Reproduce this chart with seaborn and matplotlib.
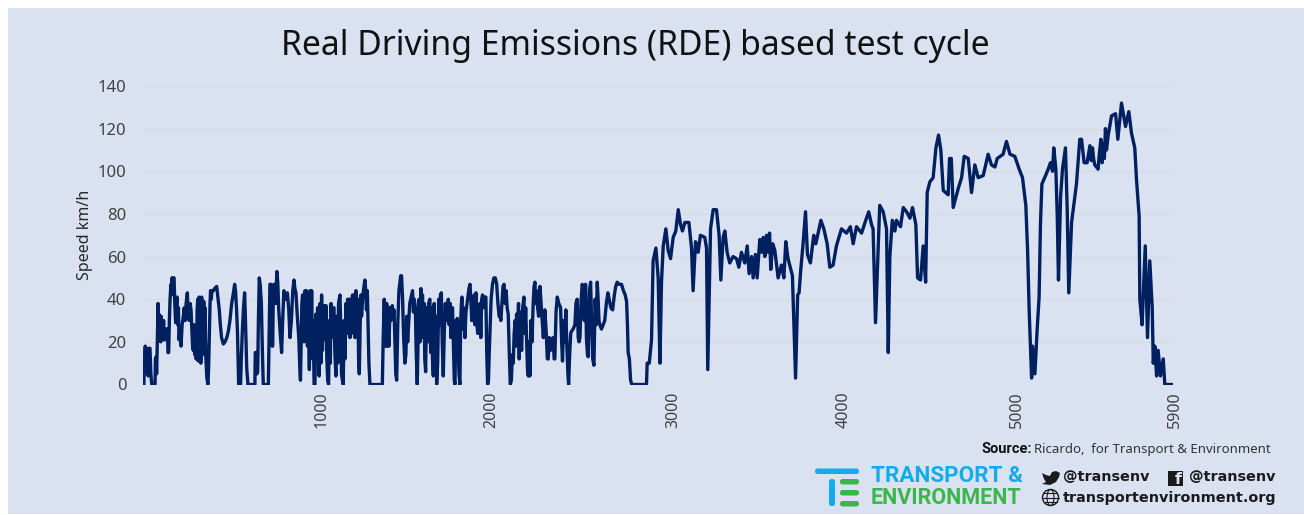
import matplotlib
matplotlib.use("Agg")
import matplotlib.pyplot as plt
from matplotlib.patches import Circle, Ellipse, FancyBboxPatch, Polygon, Rectangle
from matplotlib.transforms import ScaledTranslation
import pandas as pd
import seaborn as sns

BG = "#DAE2F2"
LINE = "#002060"
W, H = 1304, 515

# speed trace, one pair of lists per part of the cycle
urban_time = [0, 5, 8, 13, 17, 21, 26, 30, 35, 40,
              45, 50, 69, 71, 75, 78, 82, 86, 89, 92,
              95, 98, 101, 104, 107, 111, 114, 118, 121, 125,
              128, 132, 136, 140, 143, 147, 151, 155, 160, 163,
              166, 170, 174, 178, 182, 187, 191, 195, 199, 203,
              206, 212, 218, 224, 231, 236, 242, 247, 254, 259,
              265, 270, 275, 280, 284, 288, 292, 296, 300, 304,
              307, 310, 314, 317, 321, 324, 328, 331, 336, 340,
              345, 348, 352, 355, 358, 361, 366, 372, 376, 380,
              384, 387, 391, 395, 403, 410, 422, 430, 437, 443,
              450, 460, 470, 480, 489, 498, 508, 516, 525, 530,
              536, 541, 548, 559, 563, 569, 575, 582, 587, 594,
              601, 641, 643, 650, 653, 657, 661, 666, 671, 678,
              684, 689, 718, 722, 727, 732, 736, 740, 743, 746,
              750, 755, 760, 767, 772, 777, 785, 794, 800, 807,
              817, 827, 835, 842, 850, 858, 865, 870, 876, 884,
              893, 898, 902, 906, 910, 914, 918, 923, 928, 932,
              937, 942, 947, 953, 958, 962, 966, 971, 975, 980,
              985, 990, 995, 1000, 1004, 1009, 1014, 1019, 1023, 1028,
              1032, 1036, 1040, 1044, 1048, 1053, 1058, 1063, 1068, 1073,
              1077, 1080, 1086, 1094, 1099, 1105, 1110, 1115, 1120, 1128,
              1132, 1137, 1142, 1147, 1152, 1157, 1163, 1168, 1172, 1176,
              1181, 1186, 1191, 1196, 1200, 1205, 1210, 1215, 1220, 1225,
              1230, 1235, 1239, 1244, 1248, 1252, 1258, 1264, 1271, 1276,
              1280, 1285, 1290, 1294, 1300, 1371, 1376, 1382, 1386, 1391,
              1396, 1400, 1405, 1409, 1415, 1420, 1428, 1433, 1438, 1443,
              1448, 1453, 1460, 1466, 1472, 1476, 1481, 1487, 1493, 1500,
              1506, 1511, 1516, 1520, 1528, 1536, 1544, 1549, 1554, 1560,
              1565, 1571, 1576, 1582, 1587, 1592, 1597, 1601, 1605, 1610,
              1614, 1619, 1624, 1630, 1636, 1643, 1648, 1653, 1658, 1663,
              1668, 1673, 1678, 1682, 1688, 1694, 1700, 1704, 1709, 1714,
              1720, 1726, 1732, 1738, 1744, 1749, 1754, 1760, 1764, 1768,
              1773, 1778, 1783, 1787, 1792, 1796, 1800, 1805, 1810, 1815,
              1820, 1824, 1827, 1832, 1837, 1844, 1850, 1856, 1862, 1867,
              1873, 1878, 1883, 1888, 1892, 1897, 1902, 1907, 1912, 1917,
              1924, 1930, 1935, 1940, 1945, 1950, 1955, 1960, 1964, 1969,
              1974, 1979, 1983, 1987, 1994, 2002, 2010, 2018, 2026, 2033,
              2040, 2045, 2050, 2056, 2062, 2068, 2074, 2080, 2086, 2092,
              2098, 2104, 2110, 2116, 2121, 2126, 2132, 2136, 2140, 2145,
              2151, 2155, 2159, 2164, 2169, 2175, 2182, 2187, 2192, 2197,
              2202, 2207, 2212, 2216, 2222, 2228, 2235, 2240, 2245, 2250,
              2255, 2258, 2266, 2274, 2282, 2288, 2293, 2298, 2302, 2310,
              2316, 2321, 2328, 2334, 2340, 2350, 2355, 2359, 2366, 2373,
              2382, 2392, 2398, 2403, 2410, 2416, 2422, 2428, 2434, 2438,
              2444, 2450, 2455, 2464, 2474, 2480, 2487, 2493, 2498, 2503,
              2510, 2516, 2522, 2528, 2535, 2540, 2546, 2550, 2557, 2564,
              2570, 2576, 2583, 2590, 2596, 2602, 2607, 2612, 2617, 2626,
              2636, 2645, 2654, 2663, 2670, 2680, 2690, 2700, 2708, 2716,
              2726, 2741, 2752, 2762, 2770, 2775, 2779, 2786, 2793, 2800,
              2884, 2888, 2895, 2900]
urban_speed = [0, 0, 10, 18, 8, 17, 5, 4, 17, 17,
               5, 0, 0, 12, 13, 5, 20, 38, 22, 33,
               21, 31, 20, 32, 21, 29, 21, 30, 21, 26,
               21, 26, 22, 26, 15, 15, 30, 40, 47, 42,
               50, 44, 50, 50, 38, 29, 38, 41, 28, 36,
               21, 25, 18, 28, 32, 36, 30, 38, 43, 32,
               30, 38, 35, 25, 18, 16, 28, 14, 27, 12,
               13, 35, 40, 11, 41, 13, 40, 10, 41, 15,
               18, 39, 14, 36, 22, 11, 3, 0, 8, 24,
               38, 44, 40, 44, 44, 45, 46, 40, 35, 28,
               22, 19, 20, 22, 25, 30, 38, 42, 47, 44,
               35, 25, 0, 0, 12, 25, 35, 43, 30, 8,
               0, 0, 15, 15, 5, 6, 30, 50, 47, 38,
               15, 0, 0, 20, 47, 47, 40, 18, 18, 40,
               47, 47, 38, 53, 48, 36, 25, 15, 30, 44,
               40, 43, 35, 22, 30, 44, 49, 45, 43, 32,
               21, 8, 2, 20, 38, 42, 41, 20, 44, 25,
               44, 18, 32, 7, 44, 20, 44, 12, 30, 0,
               0, 33, 12, 36, 33, 4, 38, 10, 42, 16,
               35, 21, 37, 28, 37, 12, 2, 0, 30, 10,
               38, 22, 35, 36, 15, 4, 32, 10, 38, 42,
               30, 5, 2, 0, 30, 12, 38, 24, 40, 29,
               40, 22, 40, 24, 42, 32, 42, 22, 44, 26,
               40, 12, 5, 28, 42, 32, 40, 45, 49, 44,
               35, 44, 25, 10, 0, 0, 22, 40, 18, 18,
               38, 18, 36, 18, 36, 30, 37, 32, 35, 20,
               5, 2, 30, 44, 48, 51, 51, 40, 22, 10,
               14, 32, 20, 26, 38, 41, 44, 34, 40, 36,
               15, 0, 22, 40, 20, 45, 30, 42, 22, 38,
               12, 6, 36, 20, 38, 40, 15, 36, 12, 4,
               38, 18, 32, 0, 10, 40, 28, 42, 43, 20,
               4, 25, 38, 30, 36, 40, 28, 38, 22, 32,
               36, 18, 2, 0, 30, 12, 31, 20, 5, 0,
               30, 38, 41, 26, 36, 22, 34, 38, 42, 45,
               47, 40, 30, 36, 30, 42, 28, 43, 30, 24,
               24, 38, 22, 40, 42, 36, 41, 41, 41, 15,
               0, 2, 14, 24, 40, 47, 50, 50, 47, 38,
               32, 32, 30, 38, 46, 47, 38, 44, 36, 33,
               15, 0, 2, 14, 10, 24, 30, 18, 33, 22,
               38, 12, 34, 22, 16, 36, 41, 24, 36, 22,
               8, 4, 20, 4, 30, 20, 38, 46, 48, 38,
               44, 38, 32, 46, 36, 28, 22, 28, 35, 24,
               12, 12, 22, 16, 21, 22, 12, 12, 34, 41,
               38, 36, 20, 11, 30, 20, 35, 18, 5, 0,
               14, 24, 25, 26, 28, 38, 40, 22, 20, 22,
               40, 47, 44, 30, 47, 22, 14, 13, 44, 48,
               28, 12, 9, 40, 28, 48, 40, 30, 28, 26,
               28, 30, 38, 43, 40, 36, 35, 42, 46, 48,
               47, 47, 44, 42, 39, 28, 15, 12, 2, 0,
               0, 10, 10, 10]

rural_time = [2913, 2922, 2938, 2951, 2961, 2970, 2980, 2995, 3008, 3022,
              3037, 3052, 3066, 3079, 3090, 3104, 3127, 3142, 3151, 3165,
              3180, 3193, 3218, 3228, 3235, 3251, 3266, 3285, 3300, 3310,
              3323, 3333, 3346, 3361, 3380, 3400, 3413, 3428, 3447, 3461,
              3472, 3486, 3495, 3508, 3518, 3533, 3545, 3553, 3562, 3572,
              3581, 3589, 3596, 3607, 3619, 3638, 3657, 3671, 3682, 3695,
              3720, 3738, 3750, 3758, 3768, 3781, 3795, 3806, 3823, 3842,
              3854, 3883, 3900, 3919, 3934, 3953, 3972, 4001, 4030, 4052,
              4068, 4087, 4116, 4144, 4157, 4173, 4182, 4196, 4220, 4240,
              4259, 4269, 4278, 4292, 4307, 4316, 4339, 4355, 4374, 4393,
              4408, 4427, 4437, 4454, 4469, 4483]
rural_speed = [21, 58, 64, 50, 10, 48, 65, 73, 63, 59,
               69, 72, 82, 75, 72, 76, 76, 64, 44, 67,
               62, 70, 69, 64, 7, 73, 82, 82, 70, 49,
               69, 72, 62, 57, 60, 59, 55, 62, 57, 65,
               52, 60, 50, 61, 50, 68, 62, 69, 60, 70,
               62, 71, 54, 66, 63, 50, 56, 50, 67, 59,
               51, 3, 42, 43, 54, 66, 81, 61, 57, 70,
               66, 77, 73, 66, 55, 56, 65, 73, 71, 74,
               66, 74, 71, 78, 81, 75, 73, 29, 84, 81,
               73, 15, 60, 77, 72, 77, 74, 83, 81, 78,
               83, 75, 50, 49, 65, 48]

motorway_time = [4492, 4507, 4526, 4542, 4557, 4570, 4584, 4612, 4620, 4630,
                 4641, 4670, 4689, 4704, 4727, 4746, 4765, 4784, 4813, 4841,
                 4860, 4880, 4893, 4927, 4946, 4966, 4994, 5019, 5038, 5057,
                 5067, 5076, 5090, 5095, 5109, 5122, 5133, 5141, 5149, 5170,
                 5185, 5198, 5210, 5217, 5229, 5237, 5244, 5256, 5267, 5284,
                 5294, 5303, 5319, 5347, 5366, 5376, 5391, 5408, 5424, 5432,
                 5439, 5445, 5452, 5471, 5478, 5487, 5494, 5500, 5507, 5513,
                 5519, 5529, 5548, 5571, 5584, 5605, 5628, 5647, 5662, 5681,
                 5691, 5706, 5710, 5723, 5741, 5754, 5767, 5781, 5787, 5796,
                 5806, 5815, 5828, 5844, 5853, 5900]
motorway_speed = [90, 95, 97, 111, 117, 110, 91, 89, 106, 106,
                  83, 92, 97, 107, 106, 90, 103, 97, 98, 108,
                  103, 102, 106, 108, 114, 108, 107, 101, 97, 84,
                  63, 35, 3, 18, 5, 26, 41, 76, 94, 98,
                  101, 104, 100, 111, 101, 79, 49, 88, 101, 111,
                  82, 43, 76, 94, 115, 115, 104, 104, 112, 105,
                  111, 106, 103, 101, 108, 115, 104, 113, 106, 120,
                  110, 117, 126, 127, 115, 132, 121, 128, 118, 111,
                  96, 79, 40, 28, 65, 22, 58, 36, 10, 18,
                  4, 16, 4, 12, 0, 0]

y_ticks = [0, 20, 40, 60, 80, 100, 120, 140]
x_ticks = [1000, 2000, 3000, 4000, 5000, 5900]

df = pd.DataFrame({
    "time": urban_time + rural_time + motorway_time,
    "speed": urban_speed + rural_speed + motorway_speed,
})

sns.set_style("white")
plt.rcParams["font.family"] = ["Noto Sans", "DejaVu Sans"]

fig = plt.figure(figsize=(W / 100, H / 100), dpi=100, facecolor="white")

# pixel overlay for the panel, the logo and the icons
over = fig.add_axes([0, 0, 1, 1], zorder=0)
over.set_xlim(0, W)
over.set_ylim(H, 0)
over.axis("off")
over.add_patch(Rectangle((8, 8), W - 8, H - 9, color=BG, lw=0))

ax = fig.add_axes([143 / W, 1 - 384.5 / H, 1030 / W, 298.5 / H], zorder=1)
ax.patch.set_alpha(0)
sns.lineplot(data=df, x="time", y="speed", color=LINE, linewidth=2.4, ax=ax,
             estimator=None, sort=False)
ax.set_xlim(0, 5900)
ax.set_ylim(0, 140)
ax.set_xticks(x_ticks)
ax.set_yticks(y_ticks)
ax.set_xlabel("")
ax.set_ylabel("Speed km/h", fontsize=11.5, color="#262626", labelpad=3)
ax.tick_params(axis="x", labelrotation=90, labelsize=11.5, labelcolor="#404040", length=0, pad=5)
ax.tick_params(axis="y", labelsize=12, labelcolor="#404040", length=0, pad=12)
ax.grid(axis="y", color="#D9D9D9", linewidth=0.8)
ax.set_axisbelow(True)
sns.despine(ax=ax, left=True, bottom=True)

# the labels of the original sit a few pixels off their ticks
for lbl, dx in zip(ax.get_xticklabels(), [4, -1, 7, 2, 1, 2]):
    lbl.set_transform(lbl.get_transform() + ScaledTranslation(dx / 100, 0, fig.dpi_scale_trans))

over.text(635, 46, "Real Driving Emissions (RDE) based test cycle", fontsize=24.25,
          ha="center", va="center", color="#111111")

# source line
over.text(982, 449, "Source:", fontsize=10.5, fontweight="bold", family="Roboto",
          ha="left", va="center", color="#111111")
over.text(1271, 449, "Ricardo,  for Transport & Environment", fontsize=9.5, ha="right",
          va="center", color="#333333")

# logo
BLUE = "#13ACEB"
GREEN = "#3CB54A"


def bar(x0, y0, x1, y1, color):
    over.add_patch(FancyBboxPatch((x0 + 2.5, y0 + 2.5), x1 - x0 - 5, y1 - y0 - 5,
                                  boxstyle="round,pad=2.5", color=color, lw=0))


bar(815, 468.5, 859, 474, BLUE)
bar(829, 479, 835, 506, BLUE)
bar(840, 479, 859, 484.5, GREEN)
bar(840, 490, 859, 495.5, GREEN)
bar(840, 501, 859, 506.5, GREEN)
over.text(871, 476, "TRANSPORT &", fontsize=16.2, fontweight="bold", family="Roboto",
          ha="left", va="center", color=BLUE)
over.text(871, 498, "ENVIRONMENT", fontsize=15.5, fontweight="bold", family="Roboto",
          ha="left", va="center", color=GREEN)

# social handles
INK = "#1A1A1A"
over.text(1063, 477, "@transenv", fontsize=10.4, fontweight="bold", family="DejaVu Sans",
          ha="left", va="center", color=INK)
over.text(1189, 477, "@transenv", fontsize=10.4, fontweight="bold", family="DejaVu Sans",
          ha="left", va="center", color=INK)
over.text(1063, 498, "transportenvironment.org", fontsize=10.4, fontweight="bold",
          family="DejaVu Sans", ha="left", va="center", color=INK)
over.add_patch(Polygon([(1042, 473), (1046, 475), (1050, 476), (1052, 472), (1056, 471),
                        (1060, 473), (1059, 477), (1056, 482), (1050, 485), (1042, 484),
                        (1046, 482), (1044, 479), (1043, 476)], color=INK, lw=0))
over.add_patch(Rectangle((1168, 471), 15, 15, color=INK, lw=0))
over.text(1178, 480, "f", fontsize=11.5, fontweight="bold", family="DejaVu Sans", ha="center",
          va="center", color=BG)
over.add_patch(Circle((1050.5, 497.5), 8, fill=False, ec=INK, lw=1))
over.add_patch(Ellipse((1050.5, 497.5), 7, 16, fill=False, ec=INK, lw=0.8))
over.plot([1042.5, 1058.5], [497.5, 497.5], color=INK, lw=0.8)
over.plot([1044, 1057], [493, 493], color=INK, lw=0.8)
over.plot([1044, 1057], [502, 502], color=INK, lw=0.8)

fig.savefig("out.png", dpi=100, facecolor="white")
